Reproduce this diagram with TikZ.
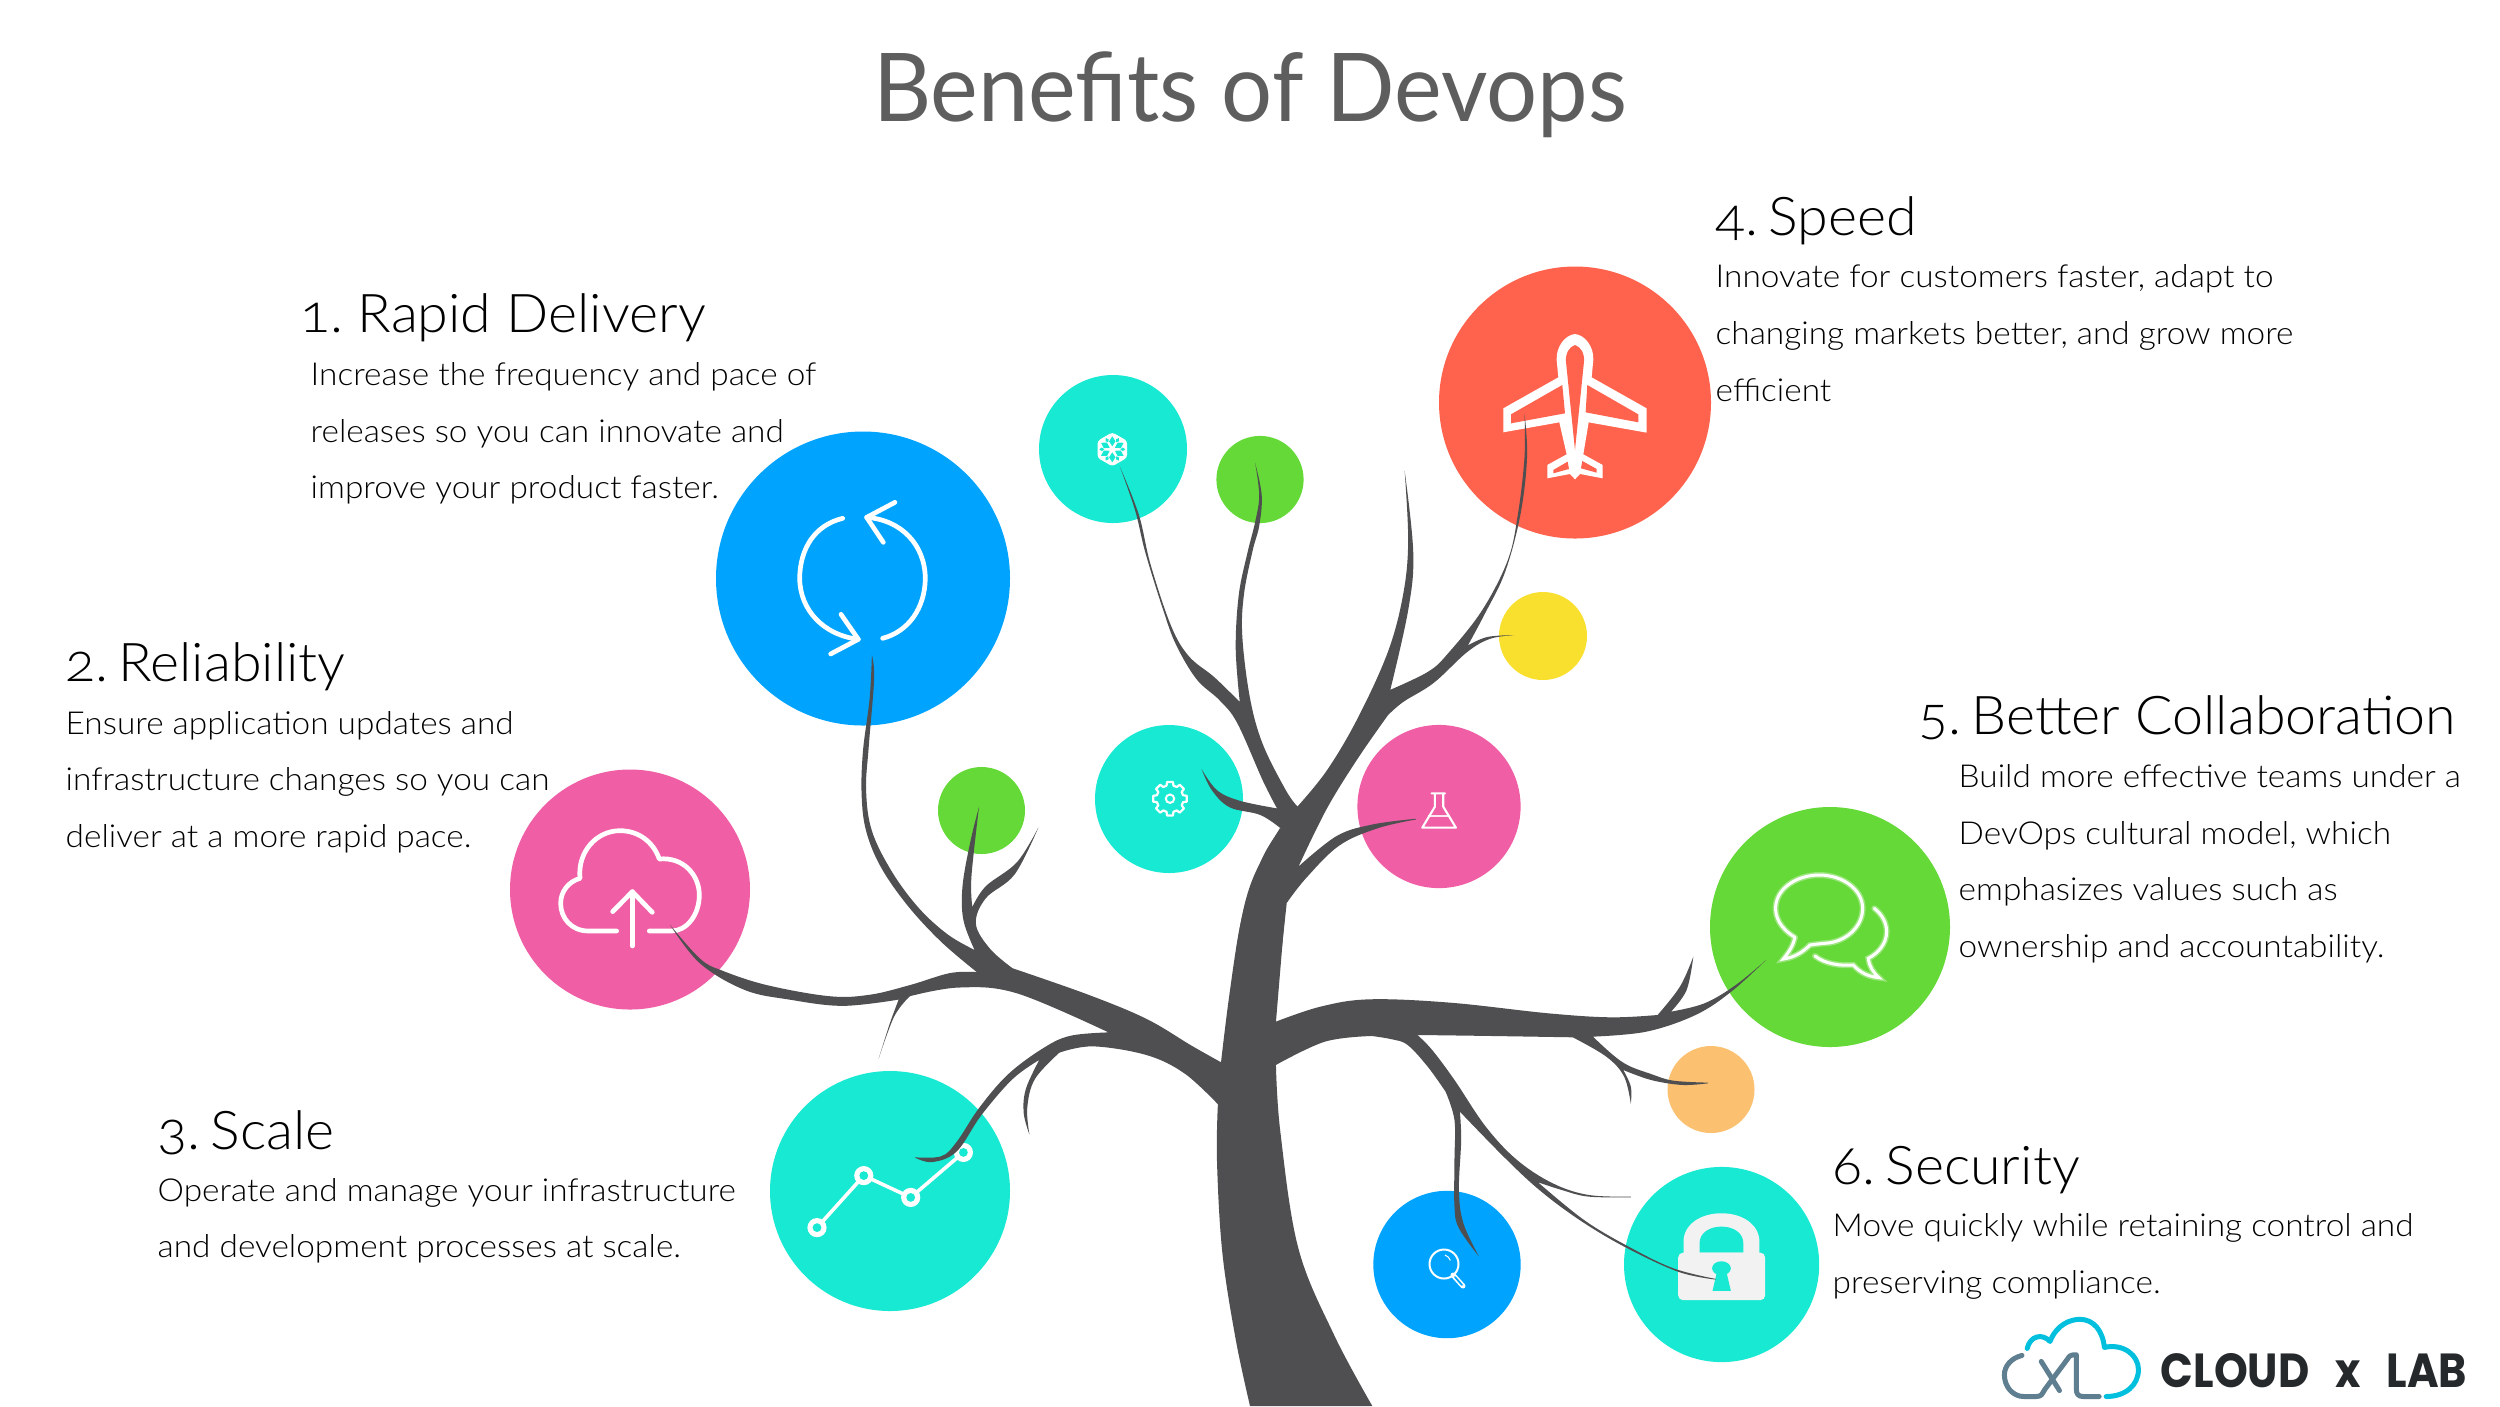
\documentclass[tikz,border=0pt]{standalone}
\usepackage{fontspec}
\setmainfont{Lato}[UprightFont=* Light,Numbers=OldStyle]
\newfontfamily\bodyf{Lato}[UprightFont=* Light,FakeStretch=1.055,Numbers=OldStyle]
\newfontfamily\headf{Lato}[UprightFont=* Light,FakeStretch=1.04,Numbers=OldStyle]
\newfontfamily\titlef{Lato}[FakeStretch=0.95]
\newfontfamily\logofont{Poppins}[UprightFont=* Bold,FakeStretch=0.9]
\definecolor{cblue}{HTML}{00A4FF}
\definecolor{cpink}{HTML}{F05FA5}
\definecolor{cteal}{HTML}{17E9D3}
\definecolor{cred}{HTML}{FF634D}
\definecolor{cgreen}{HTML}{65D938}
\definecolor{cyellow}{HTML}{F9E02F}
\definecolor{corange}{HTML}{FCC170}
\definecolor{ctree}{HTML}{4F4F51}
\definecolor{ctitle}{HTML}{5E5E5E}
\definecolor{ctext}{HTML}{000000}
\definecolor{logoa}{HTML}{00C0DE}
\definecolor{logob}{HTML}{5F7F90}
\definecolor{logot}{HTML}{25292C}
\tikzset{
  blob/.style={circle,inner sep=0pt,minimum size=#1*0.2mm},
  head/.style={anchor=base west,inner sep=0pt,text=ctext,font=\headf\fontsize{15.2pt}{17pt}\selectfont},
  bodyline/.style={anchor=base west,inner sep=0pt,text=ctext,font=\bodyf\fontsize{9pt}{11pt}\selectfont},
  sm/.style={smooth,tension=.6},
  zA/.style={shift={(100mm,-35mm)},x=0.05102mm,y=-0.03827mm},
  zB/.style={shift={(70mm,-65mm)},x=0.04464mm,y=-0.04822mm},
  zC/.style={shift={(120mm,-90mm)},x=0.04464mm,y=-0.03333mm},
  zz/.style 2 args={shift={(#1*0.1mm,-#2*0.1mm)},x=0.03333mm,y=-0.03333mm},
  iconline/.style={draw=white,line cap=round,line join=round,line width=#1*0.1mm},
}
\begin{document}
\begin{tikzpicture}[x=0.1mm,y=-0.1mm]
\useasboundingbox (0,0) rectangle (2500,1406);
\fill[white] (0,0) rectangle (2500,1406);

% title
\node[anchor=base,inner sep=0pt,text=ctitle,font=\titlef\fontsize{27pt}{30pt}\selectfont] (title) at (1250,121) {Benefits of Devops};

% circles
\node[blob=147,fill=cblue] (c1) at (863,578.5) {};
\node[blob=120,fill=cpink] (c2) at (630,889.5) {};
\node[blob=120,fill=cteal] (c3) at (890,1191) {};
\node[blob=136,fill=cred] (c4) at (1575,402.5) {};
\node[blob=120,fill=cgreen] (c5) at (1830,927) {};
\node[blob=97.6,fill=cteal] (c6) at (1721.6,1264.5) {};
\node[blob=74,fill=cteal] (s1) at (1113,449) {};
\node[blob=43.6,fill=cgreen] (s2) at (1260,479.5) {};
\node[blob=44,fill=cyellow] (s3) at (1543,636) {};
\node[blob=74,fill=cteal] (s4) at (1169,799) {};
\node[blob=81.6,fill=cpink] (s5) at (1439,806.5) {};
\node[blob=43.5,fill=cgreen] (s6) at (981.5,810.5) {};
\node[blob=43.5,fill=corange] (s7) at (1711,1089.5) {};
\node[blob=73.7,fill=cblue] (s8) at (1447,1264.5) {};

% refresh icon
\begin{scope}[zz={760}{480}]
\draw[iconline=4.7] (248,115) .. controls (165,135) and (120,205) .. (119,295) .. controls (120,390) and (190,465) .. (295,478);
\draw[iconline=4.7] (368,475) .. controls (445,455) and (495,385) .. (496,295) .. controls (495,195) and (425,120) .. (320,112);
\draw[iconline=4.7] (405,67) -- (320,112) -- (370,187);
\draw[iconline=4.7] (243,403) -- (295,478) -- (212,522);
\end{scope}

% cloud upload icon
\begin{scope}[zz={540}{810}]
\draw[iconline=4.7] (230,363) -- (145,363) .. controls (95,363) and (62,325) .. (62,280) .. controls (62,245) and (85,215) .. (120,205)
  .. controls (112,125) and (170,62) .. (240,62) .. controls (295,62) and (340,95) .. (358,147)
  .. controls (430,140) and (478,195) .. (478,255) .. controls (478,315) and (440,363) .. (395,363) -- (328,363);
\draw[iconline=4.7] (277,408) -- (277,245);
\draw[iconline=4.7] (218,305) -- (277,245) -- (337,307);
\end{scope}

% plane icon
\begin{scope}[zz={1490}{320}]
\fill[white] (255,42) .. controls (225,45) and (198,80) .. (200,120) -- (205,172) -- (40,265) -- (40,337) -- (208,307) -- (230,403) -- (172,435) -- (172,475) -- (240,462) -- (255,478) -- (270,462) -- (338,475) -- (338,435) -- (280,403) -- (296,307) -- (470,338) -- (470,265) -- (305,172) -- (310,120) .. controls (312,80) and (285,45) .. (255,42) -- cycle;
\fill[cred] (255,75) .. controls (238,80) and (226,100) .. (228,125) -- (255,390) -- (282,125) .. controls (284,100) and (272,80) .. (255,75) -- cycle;
\fill[cred] (217,195) -- (63,283) -- (63,310) -- (225,280) -- cycle;
\fill[cred] (292,195) -- (445,283) -- (445,307) -- (287,277) -- cycle;
\fill[cred] (233,425) -- (190,450) -- (190,460) -- (237,447) -- cycle;
\fill[cred] (277,423) -- (320,447) -- (320,458) -- (273,445) -- cycle;
\end{scope}

% chat icon
\begin{scope}[zz={1760}{860}]
\foreach \w/\o in {6/0.35,3/1}{
\draw[iconline=\w,opacity=\o,line join=miter] (105,232) .. controls (60,205) and (45,170) .. (47,140) .. controls (50,85) and (110,45) .. (178,45) .. controls (250,45) and (308,90) .. (308,145) .. controls (308,205) and (250,250) .. (190,250) -- (150,255) .. controls (130,275) and (105,292) .. (70,297) .. controls (88,275) and (100,255) .. (105,232);
\draw[iconline=\w,opacity=\o,line join=miter] (343,145) .. controls (368,165) and (380,190) .. (380,215) .. controls (380,250) and (355,280) .. (325,295) .. controls (328,320) and (340,338) .. (357,353) .. controls (325,350) and (300,338) .. (280,315) .. controls (240,318) and (195,312) .. (165,288);
}
\end{scope}

% snowflake icon
\begin{scope}[shift={(111.23mm,-44.93mm)}]
\fill[white,rounded corners=0.3mm] (90:17) -- (30:17) -- (-30:17) -- (-90:17) -- (-150:17) -- (150:17) -- cycle;
\foreach \a in {30,90,...,330}{
  \fill[cteal,rotate=\a] (3,0) -- (8,3.2) -- (13,0) -- (8,-3.2) -- cycle;
}
\foreach \a in {0,60,...,300}{
  \fill[cteal,rotate=\a] (8,0) -- (10.5,1.8) -- (13,0) -- (10.5,-1.8) -- cycle;
}
\end{scope}

% gear icon
\begin{scope}[shift={(117mm,-79.87mm)}]
\draw[white,line width=0.22mm,line join=round] (-10:17) \foreach \a in {0,45,...,315}{ -- (\a-10:17) -- (\a+10:17) -- (\a+15:13.5) -- (\a+30:13.5) } -- cycle;
\draw[white,line width=0.2mm] (0,0) circle (4.2);
\end{scope}

% flask icon
\begin{scope}[zz={1120}{760}]
\draw[iconline=2.1] (935,100) -- (975,100) (945,102) -- (945,140) -- (907,203) -- (1008,203) -- (970,140) -- (970,102);
\draw[white,line width=0.12mm,opacity=.85] (925,168) -- (990,168);
\end{scope}

% magnifier icon
\draw[white,line width=0.2mm] (1444,1264) circle (14.5);
\draw[white,line width=0.5mm,line cap=round] (1453,1275) -- (1463,1286);
\draw[cblue,line width=0.18mm,line cap=round] (1455,1277) -- (1462,1285);
\draw[white,line width=0.1mm] (1445,1255) arc[start angle=-70,end angle=-20,radius=9];

% scale icon
\draw[iconline=3.6] (817,1227.6) -- (863.8,1175.6) -- (910.7,1197.4) -- (963.4,1152.4);
\foreach \p/\q in {817/1227.6,863.8/1175.6,910.7/1197.4,963.4/1152.4}{
  \fill[white] (\p,\q) circle (9.6);
  \fill[cteal] (\p,\q) circle (4.4);
}

% lock icon
\begin{scope}[zC]
\fill[white!95!black] (1083,1065) -- (1083,1025) .. controls (1083,975) and (1120,940) .. (1168,940) .. controls (1216,940) and (1253,975) .. (1253,1025) -- (1253,1065) -- cycle;
\fill[cteal] (1119,1058) -- (1119,1030) .. controls (1119,1000) and (1140,980) .. (1168,980) .. controls (1196,980) and (1217,1000) .. (1217,1030) -- (1217,1058) -- cycle;
\fill[white!95!black,rounded corners=0.5mm] (1071,1058) rectangle (1266,1201);
\fill[cteal] (1168,1105) ellipse [x radius=21,y radius=21];
\fill[cteal] (1158,1115) -- (1148,1173) -- (1189,1173) -- (1179,1115) -- cycle;
\end{scope}

% tree
\begin{scope}[zA]
\fill[ctree]
 plot[sm] coordinates {(463,1568)(480,1450)(515,1325)(550,1250)}
 -- plot[sm] coordinates {(550,1250)(510,1215)(450,1195)(415,1150)(395,1095)}
 -- plot[sm] coordinates {(395,1095)(425,1150)(470,1178)(543,1198)}
 -- plot[sm] coordinates {(543,1198)(515,1125)(465,975)(430,915)(385,860)(345,770)(320,680)(285,530)(265,420)(235,305)}
 -- plot[sm] coordinates {(235,305)(272,430)(295,560)(335,720)(370,800)(420,855)(470,920)}
 -- plot[sm] coordinates {(470,920)(462,780)(468,640)(485,530)(500,450)(508,380)(500,295)}
 -- plot[sm] coordinates {(500,295)(513,380)(508,460)(495,525)(478,640)(475,750)(490,910)(515,1030)(560,1150)(583,1193)}
 -- plot[sm] coordinates {(583,1193)(640,1100)(700,965)(760,790)(790,640)(800,500)(793,315)}
 -- plot[sm] coordinates {(793,315)(810,530)(800,680)(765,888)}
 -- plot[sm] coordinates {(765,888)(840,840)(880,790)(945,680)(995,550)(1015,430)(1028,280)(1028,165)}
 -- plot[sm] coordinates {(1028,165)(1033,280)(1020,430)(990,580)(950,690)(917,772)}
 -- plot[sm] coordinates {(917,772)(955,750)(1008,745)}
 -- plot[sm] coordinates {(1008,745)(960,755)(915,790)(850,870)(790,920)(760,955)}
 -- plot[sm] coordinates {(760,955)(700,1070)(640,1200)(585,1350)}
 -- plot[sm] coordinates {(585,1350)(660,1270)(730,1240)(815,1225)}
 -- plot[sm] coordinates {(815,1227)(740,1250)(665,1295)(600,1380)(562,1445)}
 -- (552,1568) -- cycle;
\end{scope}
\begin{scope}[zB]
\fill[ctree]
 plot[sm] coordinates {(1300,368)(1240,470)(1210,570)(1185,720)(1167,855)}
 -- plot[sm] coordinates {(1167,855)(1100,820)(1000,765)(870,715)(700,660)}
 -- plot[sm] coordinates {(700,660)(650,620)(618,568)(640,515)(705,465)(758,368)}
 -- plot[sm] coordinates {(758,368)(710,440)(640,490)(610,533)}
 -- plot[sm] coordinates {(610,533)(608,470)(625,325)}
 -- plot[sm] coordinates {(625,325)(605,400)(588,490)(590,560)(615,622)}
 -- plot[sm] coordinates {(615,622)(555,590)(490,535)(430,460)(385,375)(372,290)(378,200)(390,60)(385,10)}
 -- plot[sm] coordinates {(385,10)(380,100)(365,210)(362,300)(372,375)(405,450)(465,530)(540,605)(620,668)}
 -- plot[sm] coordinates {(620,668)(560,670)(470,695)(380,715)(290,718)(150,695)(50,665)(0,640)(-67,570)}
 -- plot[sm] coordinates {(-67,570)(0,650)(100,705)(200,725)(320,738)(445,725)}
 -- plot[sm] coordinates {(445,725)(425,775)(400,848)}
 -- plot[sm] coordinates {(400,848)(435,760)(470,718)}
 -- plot[sm] coordinates {(470,718)(580,700)(710,712)(915,793)}
 -- plot[sm] coordinates {(915,793)(830,800)(770,825)(690,880)(625,950)(575,1020)(540,1050)(480,1052)}
 -- plot[sm] coordinates {(480,1052)(520,1062)(575,1040)(630,965)(700,890)(760,850)}
 -- plot[sm] coordinates {(760,850)(730,910)(725,960)(738,1005)}
 -- plot[sm] coordinates {(738,1005)(733,950)(750,890)(805,835)}
 -- plot[sm] coordinates {(805,835)(880,822)(1000,840)(1085,878)(1160,942)}
 -- plot[sm] coordinates {(1160,942)(1158,1060)(1170,1250)(1200,1430)(1232,1568)}
 -- plot[sm] coordinates {(1506,1568)(1420,1420)(1340,1240)(1300,1000)(1290,860)}
 -- (1290,772) -- (1312,527) -- cycle;
\end{scope}
\begin{scope}[zC]
\fill[ctree]
 plot[sm] coordinates {(170,365)(270,320)(380,298)(560,308)(780,340)(920,352)(1025,345)}
 -- plot[sm] coordinates {(1025,345)(1075,260)(1105,170)}
 -- plot[sm] coordinates {(1105,170)(1090,270)(1055,335)}
 -- plot[sm] coordinates {(1055,335)(1130,310)(1200,255)(1268,180)}
 -- plot[sm] coordinates {(1268,180)(1190,275)(1110,345)(1000,395)(880,410)}
 -- plot[sm] coordinates {(880,410)(925,465)(960,497)(1010,522)(1060,542)(1138,548)}
 -- plot[sm] coordinates {(1138,550)(1080,555)(1010,540)(948,510)}
 -- plot[sm] coordinates {(948,510)(965,560)(965,612)}
 -- plot[sm] coordinates {(965,612)(950,530)(910,470)(835,412)}
 -- plot[sm] coordinates {(835,412)(650,408)(487,405)}
 -- plot[sm] coordinates {(487,405)(520,450)(570,540)(640,680)(710,780)(790,850)(870,885)(965,890)}
 -- plot[sm] coordinates {(965,892)(870,890)(810,870)(757,847)}
 -- plot[sm] coordinates {(757,847)(860,960)(960,1040)(1060,1105)(1155,1137)}
 -- plot[sm] coordinates {(1155,1139)(1070,1115)(950,1040)(850,960)(760,870)(680,770)(582,635)}
 -- plot[sm] coordinates {(582,635)(585,720)(580,870)(590,970)(625,1070)}
 -- plot[sm] coordinates {(625,1070)(580,985)(570,920)(570,780)(570,660)(550,575)}
 -- plot[sm] coordinates {(550,575)(510,500)(465,435)(430,418)(385,408)}
 -- plot[sm] coordinates {(385,408)(280,425)(170,495)}
 -- (100,495) -- (100,365) -- cycle;
\end{scope}

% text blocks
\node[head] (h1) at (300,332.5) {1.\hspace{1.4mm}Rapid Delivery};
\node[bodyline] (b1a) at (310,385) {Increase the frequency and pace of};
\node[bodyline] (b1b) at (310,442) {releases so you can innovate and};
\node[bodyline] (b1c) at (310,498) {improve your product faster.};

\node[head] (h2) at (65,681.5) {2.\hspace{1mm}Reliability};
\node[bodyline] (b2a) at (65,734) {Ensure application updates and};
\node[bodyline] (b2b) at (65,790.5) {infrastructure changes so you can};
\node[bodyline] (b2c) at (65,847) {deliver at a more rapid pace.};

\node[head] (h3) at (157,1149) {3.\hspace{1mm}Scale};
\node[bodyline] (b3a) at (157,1201) {Operate and manage your infrastructure};
\node[bodyline] (b3b) at (157,1257.5) {and development processes at scale.};

\node[head] (h4) at (1715,235) {4.\hspace{1mm}Speed};
\node[bodyline] (b4a) at (1715,287.5) {Innovate for customers faster, adapt to};
\node[bodyline] (b4b) at (1715,344.5) {changing markets better, and grow more};
\node[bodyline] (b4c) at (1715,401) {efficient};

\node[head] (h5) at (1918,734) {5.\hspace{1mm}Better Collaboration};
\node[bodyline] (b5a) at (1958,787.5) {Build more effective teams under a};
\node[bodyline] (b5b) at (1958,844) {DevOps cultural model, which};
\node[bodyline] (b5c) at (1958,900.5) {emphasizes values such as};
\node[bodyline] (b5d) at (1958,957.5) {ownership and accountability.};

\node[head] (h6) at (1832,1184) {6.\hspace{1mm}Security};
\node[bodyline] (b6a) at (1832,1236.5) {Move quickly while retaining control and};
\node[bodyline] (b6b) at (1832,1293.5) {preserving compliance.};

% logo
\begin{scope}[shift={(195mm,-128mm)},x=0.0351mm,y=-0.0351mm]
\draw[logoa,line width=0.5mm,line cap=round,line join=round] (220,195) .. controls (228,160) and (262,150) .. (285,175) .. controls (305,125) and (345,112) .. (370,112) .. controls (410,112) and (435,145) .. (440,192) .. controls (495,180) and (537,215) .. (537,255) .. controls (537,300) and (500,332) .. (445,332);
\draw[logob,line width=0.5mm,line cap=round,line join=round] (205,215) .. controls (175,222) and (155,245) .. (155,270) .. controls (155,305) and (180,332) .. (210,332) -- (245,332) .. controls (262,332) and (262,325) .. (270,312) -- (335,225) .. controls (340,215) and (345,213) .. (360,213) -- (360,310) .. controls (360,325) and (365,332) .. (380,332) -- (425,332);
\draw[logob,line width=0.5mm,line cap=round] (260,232) -- (312,315);
\end{scope}
\node[anchor=base west,inner sep=0pt,text=logot,font=\logofont\fontsize{13.6pt}{15pt}\selectfont] (logo) at (2160,1387) {CLOUD\hspace{2.6mm}x\hspace{2.6mm}LAB};
\end{tikzpicture}
\end{document}
